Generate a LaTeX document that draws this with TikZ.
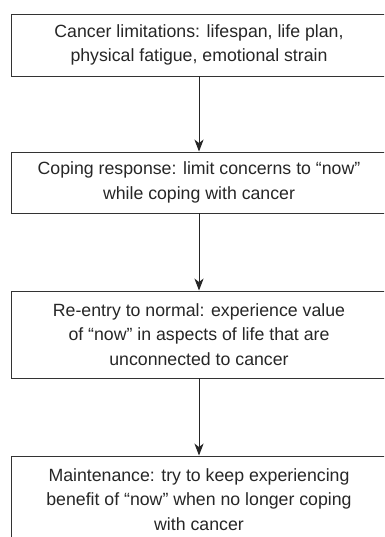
\documentclass[tikz,border=0pt]{standalone}
\usepackage{fontspec}
\setmainfont{Liberation Sans}
\usetikzlibrary{arrows.meta}

\begin{document}
\begin{tikzpicture}[
    stage/.style={draw=black!80, rectangle, line width=0.7pt, align=center,
      text=black!85, minimum width=9.4cm,
      font=\fontsize{12.6pt}{17.4pt}\selectfont},
    flow/.style={-{Stealth[length=8.5pt,width=6.5pt,inset=2.5pt]}, line width=0.7pt, draw=black!85}
  ]
    \clip (0,0) rectangle (9.6,-13.425);

    \node[stage, minimum height=1.55cm] (a) at (4.975,-1.125)
      {Cancer limitations: lifespan, life plan,\\physical fatigue, emotional strain};
    \node[stage, minimum height=1.525cm] (b) at (4.975,-4.5625)
      {Coping response: limit concerns to “now”\\while coping with cancer};
    \node[stage, minimum height=2.175cm] (c) at (4.975,-8.3625)
      {Re-entry to normal: experience value\\of “now” in aspects of life that are\\unconnected to cancer};
    \node[stage, minimum height=2.175cm] (d) at (4.975,-12.4875)
      {Maintenance: try to keep experiencing\\benefit of “now” when no longer coping\\with cancer};

    \draw[flow] (a) -- (b);
    \draw[flow] (b) -- (c);
    \draw[flow] (c) -- (d);
  \end{tikzpicture}
\end{document}
